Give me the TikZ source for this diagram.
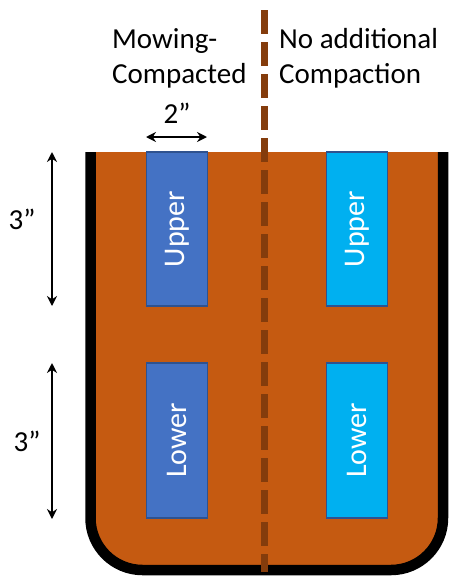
\documentclass[tikz,border=0pt]{standalone}
\usepackage{fontspec}
\setmainfont{Carlito}
\usetikzlibrary{arrows.meta}
\definecolor{soil}{HTML}{C55A11}
\definecolor{darksoil}{HTML}{843C0C}
\definecolor{compblue}{HTML}{4472C4}
\definecolor{skyblue}{HTML}{00B0F0}
\definecolor{edgeblue}{HTML}{2F528F}
\begin{document}
\begin{tikzpicture}[x=1pt,y=-1pt,
  hdr/.style={font=\fontsize{29}{35}\selectfont, align=left, inner sep=0pt},
  dimlbl/.style={font=\fontsize{29}{35}\selectfont, inner sep=0pt},
  core/.style={draw=edgeblue, line width=1.2pt, minimum height=61pt, inner sep=0pt,
    text=white, font=\fontsize{30}{36}\selectfont},
  dimarrow/.style={line width=2pt, {Stealth[length=10pt,width=10pt]}-{Stealth[length=10pt,width=10pt]}}
]
\useasboundingbox (0,0) rectangle (449,576);
% container
\fill[soil, rounded corners=50pt] (90.5,152) -- (90.5,570) -- (443,570) -- (443,152) -- cycle;
\fill[soil] (90.5,152) rectangle (443,450);
\draw[line width=10.5pt, rounded corners=52pt] (90.5,152) -- (90.5,570) -- (443,570) -- (443,152);
% cores
\node[core, fill=compblue, minimum width=154pt, rotate=90] (ul) at (177,229) {Upper};
\node[core, fill=compblue, minimum width=155pt, rotate=90] (ll) at (177,440.5) {Lower};
\node[core, fill=skyblue, minimum width=154pt, rotate=90] (ur) at (357,229) {Upper};
\node[core, fill=skyblue, minimum width=155pt, rotate=90] (lr) at (357,440.5) {Lower};
% divider
\coordinate (dtop) at (264,10);
\coordinate (dbot) at (264,572);
\draw[darksoil, line width=7pt, dash pattern=on 24pt off 8pt] (dtop) -- (dbot);
% headings
\node[hdr, anchor=base west] (h1) at (112,83) {Mowing-\\Compacted};
\node[hdr, anchor=base west] (h2) at (279,83) {No additional\\Compaction};
% dimension arrows
\coordinate (w1) at (146,137);
\coordinate (w2) at (207,137);
\draw[dimarrow] (w1) -- (w2);
\node[dimlbl, anchor=base] (wl) at (177,123) {2”};
\coordinate (a1) at (52,152);
\coordinate (a2) at (52,306);
\draw[dimarrow] (a1) -- (a2);
\node[dimlbl, anchor=base] (al) at (22,229) {3”};
\coordinate (b1) at (52,363);
\coordinate (b2) at (52,519);
\draw[dimarrow] (b1) -- (b2);
\node[dimlbl, anchor=base] (bl) at (27,451) {3”};
\end{tikzpicture}
\end{document}
